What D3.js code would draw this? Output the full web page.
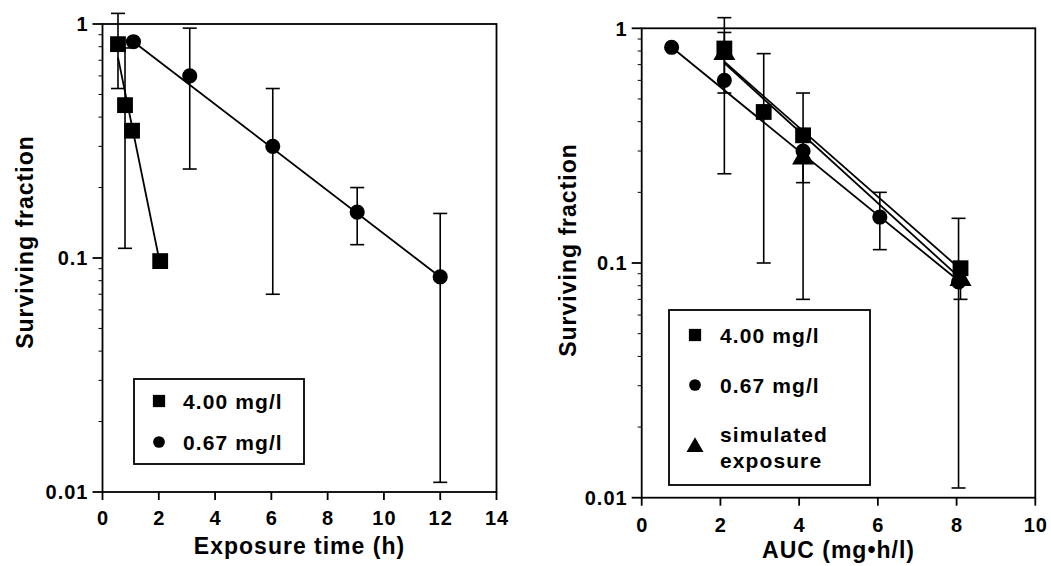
<!DOCTYPE html>
<html>
<head>
<meta charset="utf-8">
<script src="https://cdn.jsdelivr.net/npm/d3@7"></script>
<style>
  body { margin: 0; background: #fff; }
  svg text { font-family: "Liberation Sans", Arial, Helvetica, sans-serif; font-weight: bold; fill: #000; }
</style>
</head>
<body>
<svg id="chart" width="1051" height="566"></svg>
<script>
//left panel: exposure time (h)
const timeSqX = [0.55, 0.8, 1.05, 2.05];
const timeSqY = [0.82, 0.45, 0.35, 0.097];
const timeSqErr = [0.29, 0.34, 0, 0];
const timeCircX = [1.1, 3.1, 6.05, 9.05, 12.0];
const timeCircY = [0.84, 0.6, 0.30, 0.157, 0.083];
const timeCircErr = [0, 0.36, 0.23, 0.043, 0.072];
const timeSqFit = [[0.55, 0.72], [2.05, 0.094]];
const timeCircFit = [[1.1, 0.84], [12.0, 0.083]];

//right panel: AUC (mg.h/l)
const aucSqX = [2.1, 3.1, 4.1, 8.1];
const aucSqY = [0.82, 0.44, 0.35, 0.095];
const aucSqErr = [0.29, 0.34, 0, 0];
const aucCircX = [0.76, 2.1, 4.1, 6.05, 8.05];
const aucCircY = [0.83, 0.6, 0.30, 0.157, 0.083];
const aucCircErr = [0, 0.36, 0.23, 0.043, 0.072];
const aucTriX = [2.1, 4.1, 8.1];
const aucTriY = [0.78, 0.28, 0.085];
const aucTriErr = [0, 0.06, 0.015];
const aucSqFit = [[2.1, 0.72], [8.1, 0.094]];
const aucTriFit = [[2.1, 0.71], [8.1, 0.086]];
const aucCircFit = [[0.76, 0.83], [8.05, 0.084]];

const yTickVals = [0.01, 0.1, 1];
const yTickLabels = ["0.01", "0.1", "1"];
const timeTicks = [0, 2, 4, 6, 8, 10, 12, 14];
const aucTicks = [0, 2, 4, 6, 8, 10];

const legendLeft = ["4.00 mg/l", "0.67 mg/l"];
const legendRight = ["4.00 mg/l", "0.67 mg/l", ["simulated", "exposure"]];

const svg = d3.select("#chart");
const zip = (xs, ys, es) => xs.map((x, i) => ({x: x, y: ys[i], e: es ? es[i] : 0}));

function drawPanel(cfg) {
    const x = d3.scaleLinear().domain([0, cfg.xMax]).range([cfg.left, cfg.right]);
    const y = d3.scaleLog().domain([0.01, 1]).range([cfg.bottom, cfg.top]);
    const g = svg.append("g");

    //frame
    g.append("rect")
        .attr("x", cfg.left).attr("y", cfg.top)
        .attr("width", cfg.right - cfg.left).attr("height", cfg.bottom - cfg.top)
        .attr("fill", "none").attr("stroke", "#000").attr("stroke-width", 1.8);

    //y ticks
    const minor = [];
    [0.01, 0.1].forEach(dec => d3.range(2, 10).forEach(k => minor.push(dec * k)));
    g.selectAll("line.ymin").data(minor).enter().append("line")
        .attr("x1", cfg.left - 4).attr("x2", cfg.left)
        .attr("y1", d => y(d)).attr("y2", d => y(d))
        .attr("stroke", "#000").attr("stroke-width", 1);
    g.selectAll("line.ymaj").data(yTickVals).enter().append("line")
        .attr("x1", cfg.left - 10).attr("x2", cfg.left)
        .attr("y1", d => y(d)).attr("y2", d => y(d))
        .attr("stroke", "#000").attr("stroke-width", 1.8);
    g.selectAll("text.ylab").data(yTickVals).enter().append("text")
        .attr("x", cfg.left - 14).attr("y", d => y(d)).attr("dy", "0.36em")
        .attr("text-anchor", "end")
        .style("font-size", "20px").style("letter-spacing", "1px")
        .text((d, i) => yTickLabels[i]);

    //x ticks
    g.selectAll("line.xmaj").data(cfg.xTicks).enter().append("line")
        .attr("x1", d => x(d)).attr("x2", d => x(d))
        .attr("y1", cfg.bottom).attr("y2", cfg.bottom + 8)
        .attr("stroke", "#000").attr("stroke-width", 1.8);
    g.selectAll("text.xlab").data(cfg.xTicks).enter().append("text")
        .attr("x", d => x(d) + 0.5).attr("y", cfg.bottom + cfg.tickDy)
        .attr("text-anchor", "middle")
        .style("font-size", "20px").style("letter-spacing", "1px")
        .text(d => d);

    //axis titles
    g.append("text")
        .attr("x", (cfg.left + cfg.right) / 2).attr("y", cfg.bottom + cfg.titleDy)
        .attr("text-anchor", "middle")
        .style("font-size", "23px").style("letter-spacing", "1px")
        .text(cfg.xTitle);
    g.append("text")
        .attr("transform", `translate(${cfg.yTitleX},${cfg.yTitleY}) rotate(-90)`)
        .attr("text-anchor", "middle")
        .style("font-size", "23px").style("letter-spacing", "1px")
        .text("Surviving fraction");

    //fit lines
    cfg.fits.forEach(f => {
        g.append("line")
            .attr("x1", x(f[0][0])).attr("y1", y(f[0][1]))
            .attr("x2", x(f[1][0])).attr("y2", y(f[1][1]))
            .attr("stroke", "#000").attr("stroke-width", 1.8);
    });

    //error bars
    cfg.series.forEach(s => {
        const pts = s.data.filter(d => d.e > 0);
        const eb = g.selectAll(null).data(pts).enter().append("g");
        eb.append("line")
            .attr("x1", d => x(d.x)).attr("x2", d => x(d.x))
            .attr("y1", d => y(d.y + d.e)).attr("y2", d => y(Math.max(d.y - d.e, 0.0101)))
            .attr("stroke", "#000").attr("stroke-width", 1.6);
        [d => d.y + d.e, d => Math.max(d.y - d.e, 0.0101)].forEach(fn => {
            eb.append("line")
                .attr("x1", d => x(d.x) - 7).attr("x2", d => x(d.x) + 7)
                .attr("y1", d => y(fn(d))).attr("y2", d => y(fn(d)))
                .attr("stroke", "#000").attr("stroke-width", 1.6);
        });
    });

    //markers
    cfg.series.forEach(s => {
        g.selectAll(null).data(s.data).enter().append("path")
            .attr("transform", d => `translate(${x(d.x)},${y(d.y)})`)
            .attr("d", d3.symbol().type(s.shape).size(s.size))
            .attr("fill", "#000");
    });

    //legend
    const lg = cfg.legend;
    g.append("rect")
        .attr("x", lg.x).attr("y", lg.y).attr("width", lg.w).attr("height", lg.h)
        .attr("fill", "#fff").attr("stroke", "#000").attr("stroke-width", 1.8);
    lg.rows.forEach((r, i) => {
        g.append("path")
            .attr("transform", `translate(${lg.markX},${r.cy})`)
            .attr("d", d3.symbol().type(cfg.series[i].shape).size(cfg.series[i].size * 0.6))
            .attr("fill", "#000");
        const lines = Array.isArray(r.label) ? r.label : [r.label];
        lines.forEach((t, j) => {
            g.append("text")
                .attr("x", lg.textX)
                .attr("y", r.cy + (j - (lines.length - 1) / 2) * 26).attr("dy", "0.36em")
                .style("font-size", "21px").style("letter-spacing", "1.1px")
                .text(t);
        });
    });
}

drawPanel({
    left: 102.5, right: 496.5, top: 24, bottom: 492, xMax: 14,
    xTicks: timeTicks, tickDy: 33, titleDy: 62,
    xTitle: "Exposure time (h)", yTitleX: 33, yTitleY: 242,
    fits: [timeSqFit, timeCircFit],
    series: [
        {data: zip(timeSqX, timeSqY, timeSqErr), shape: d3.symbolSquare, size: 250},
        {data: zip(timeCircX, timeCircY, timeCircErr), shape: d3.symbolCircle, size: 180}
    ],
    legend: {
        x: 134, y: 379, w: 170, h: 85, markX: 159, textX: 183,
        rows: [{cy: 401, label: legendLeft[0]}, {cy: 442, label: legendLeft[1]}]
    }
});

drawPanel({
    left: 641.7, right: 1035.3, top: 28.3, bottom: 497.7, xMax: 10,
    xTicks: aucTicks, tickDy: 34, titleDy: 60,
    xTitle: "AUC (mg\u2022h/l)", yTitleX: 576, yTitleY: 250,
    fits: [aucSqFit, aucTriFit, aucCircFit],
    series: [
        {data: zip(aucSqX, aucSqY, aucSqErr), shape: d3.symbolSquare, size: 250},
        {data: zip(aucCircX, aucCircY, aucCircErr), shape: d3.symbolCircle, size: 180},
        {data: zip(aucTriX, aucTriY, aucTriErr), shape: d3.symbolTriangle, size: 210}
    ],
    legend: {
        x: 669, y: 310, w: 201, h: 175, markX: 695, textX: 720,
        rows: [{cy: 335, label: legendRight[0]}, {cy: 385, label: legendRight[1]}, {cy: 447, label: legendRight[2]}]
    }
});
</script>
</body>
</html>
